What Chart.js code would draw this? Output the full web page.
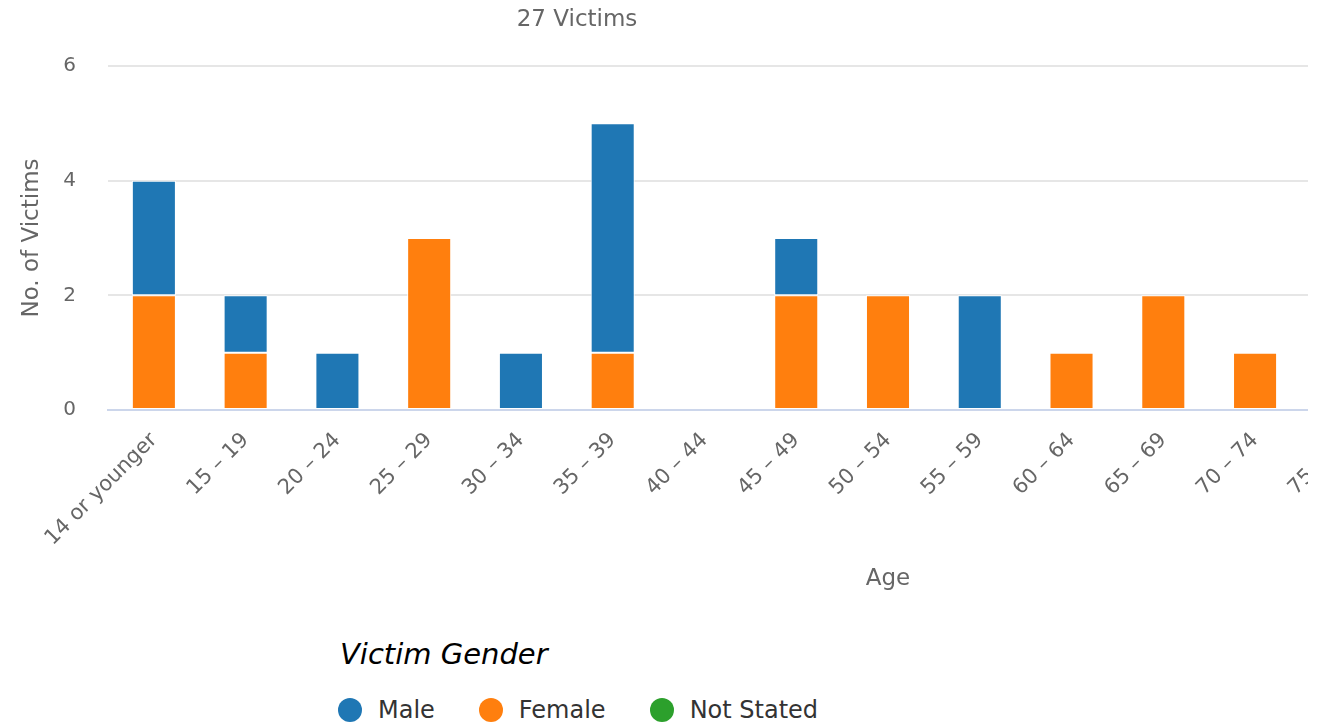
<!DOCTYPE html>
<html>
<head>
<meta charset="utf-8">
<script src="https://cdn.jsdelivr.net/npm/chart.js@4"></script>
<style>
  html, body { margin: 0; padding: 0; background: #fff; overflow: hidden; }
  body { width: 1330px; height: 725px; position: relative; font-family: 'DejaVu Sans', sans-serif; }
  #clip { position: absolute; left: 0; top: 0; width: 1308px; height: 610px; overflow: hidden; }
  #chartTitle { position: absolute; left: 577px; top: 5px; transform: translateX(-50%); font-size: 23px; color: #666; white-space: nowrap; }
  #legend { position: absolute; left: 338px; top: 636px; }
  #legendTitle { font-size: 29px; font-style: italic; color: #000; line-height: 36px; padding-left: 2px; }
  #legendItems { display: flex; gap: 44px; margin-top: 24px; }
  .item { display: flex; align-items: center; font-size: 24px; color: #333; line-height: 28px; }
  .dot { width: 24px; height: 24px; border-radius: 50%; margin-right: 16px; }
</style>
</head>
<body>
<div id="clip"><canvas id="myChart" width="1690" height="600"></canvas></div>
<div id="chartTitle"></div>
<div id="legend">
  <div id="legendTitle">Victim Gender</div>
  <div id="legendItems"></div>
</div>
<script>
const categories = ['14 or younger', '15 – 19', '20 – 24', '25 – 29', '30 – 34', '35 – 39', '40 – 44',
  '45 – 49', '50 – 54', '55 – 59', '60 – 64', '65 – 69', '70 – 74', '75 – 79', '80 – 84', '85 – 89', '90 or older'];
const male      = [2, 1, 1, 0, 1, 4, 0, 1, 0, 2, 0, 0, 0, 0, 0, 0, 0];
const female    = [2, 1, 0, 3, 0, 1, 0, 2, 2, 0, 1, 2, 1, 0, 0, 0, 0];
const notStated = [0, 0, 0, 0, 0, 0, 0, 0, 0, 0, 0, 0, 0, 0, 0, 0, 0];
const seriesNames = ['Male', 'Female', 'Not Stated'];
const seriesColors = ['#1f77b4', '#ff7f0e', '#2ca02c'];
const yTicks = [0, 2, 4, 6];

const seriesData = [male, female, notStated];
const total = seriesData.flat().reduce((a, b) => a + b, 0);
document.getElementById('chartTitle').textContent = total + ' Victims';

// legend in the series order, stacking with first series on top
const legendBox = document.getElementById('legendItems');
seriesNames.forEach((name, i) => {
  const item = document.createElement('div');
  item.className = 'item';
  item.innerHTML = '<span class="dot" style="background:' + seriesColors[i] + '"></span>' + name;
  legendBox.appendChild(item);
});

const datasets = seriesNames.map((name, i) => ({
  label: name,
  data: seriesData[i],
  backgroundColor: seriesColors[i],
  borderColor: '#ffffff',
  borderWidth: 1,
  borderSkipped: false,
  categoryPercentage: 1,
  barPercentage: 0.48
})).reverse();

const font = 'DejaVu Sans';
const ctx = document.getElementById('myChart').getContext('2d');
const myChart = new Chart(ctx, {
  type: 'bar',
  data: { labels: categories, datasets: datasets },
  options: {
    responsive: false,
    animation: false,
    layout: { padding: { top: 66, right: 22, left: 0, bottom: 0 } },
    plugins: { legend: { display: false }, tooltip: { enabled: false } },
    scales: {
      x: {
        stacked: true,
        grid: { display: false },
        border: { display: true, color: '#ccd6eb', width: 2 },
        ticks: {
          minRotation: 45, maxRotation: 45, autoSkip: false, padding: 10,
          color: '#666', font: { family: font, size: 21 }
        },
        title: {
          display: true, text: 'Age', color: '#666',
          font: { family: font, size: 23 }, padding: { top: 0, bottom: 7 }
        },
        afterFit: scale => { scale.height = 190; }
      },
      y: {
        stacked: true,
        min: 0, max: 6,
        afterBuildTicks: scale => { scale.ticks = yTicks.map(v => ({ value: v })); },
        grid: {
          drawTicks: false,
          lineWidth: 2,
          color: c => c.tick && c.tick.value === 0 ? '#ccd6eb' : '#e6e6e6'
        },
        border: { display: false },
        ticks: { padding: 32, color: '#666', font: { family: font, size: 20 } },
        title: {
          display: true, text: 'No. of Victims', color: '#666',
          font: { family: font, size: 23 }, padding: { top: 18, bottom: 0 }
        },
        afterFit: scale => { scale.width = 108; }
      }
    }
  }
});
</script>
</body>
</html>
